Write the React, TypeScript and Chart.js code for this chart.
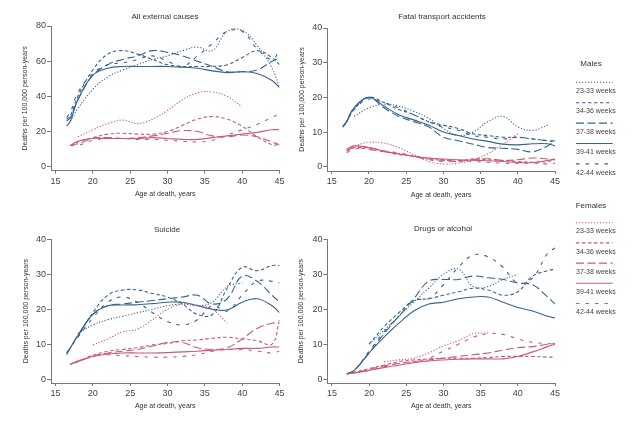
import React, { useEffect, useRef } from "react";
import { Chart, registerables } from "chart.js";

Chart.register(...registerables);

// ---------- data ----------
const AGES = [16.5, 17, 18, 20, 22, 24, 26, 28, 30, 32, 34, 36, 38, 40, 42, 44, 45];
const GROUPS = ["23-33 weeks", "34-36 weeks", "37-38 weeks", "39-41 weeks", "42-44 weeks"];
const X_TICKS = [15, 20, 25, 30, 35, 40, 45];
const Y_TICKS_EXT = [0, 20, 40, 60, 80];
const Y_TICKS_40 = [0, 10, 20, 30, 40];

// All external causes
const extM1 = [null, 26, 33, 44, 51, 55, 58, 61, 63, 66, 68, 66, 77, 77.5, 69, 56, 45];
const extM2 = [27, 29, 40, 55, 64, 66, 64, 61, 58, 57, 57, 57, 58, 62, 66, 62, 58];
const extM3 = [26, 28, 38, 52, 58, 61, 63, 66, 65, 63, 60, 57, 54, 54, 55, 60, 62];
const extM4 = [23, 26, 38, 52, 56, 57, 57, 57, 57, 56.5, 56, 54.5, 53.5, 54, 53, 49, 45];
const extM5 = [28, 31, 42, 53, 58, 59, 61, 63, 60, 57, 63, 70, 77, 77, 67, 61, 66];
const extF1 = [null, null, 17, 21, 24.5, 26.5, 24.5, 27, 32, 38, 42, 42.5, 40, 34, null, null, null];
const extF2 = [null, 12, 14, 16.5, 18.5, 19, 18.5, 18.5, 20, 23.5, 27, 28.5, 27, 23, 17, 12.5, 12.5];
const extF3 = [null, 12, 13, 16, 16.5, 16, 16.5, 17.5, 19, 20.5, 20, 17.5, 17, 18, 17, 14, 12.5];
const extF4 = [null, 12, 14.5, 16, 16, 16, 16, 16.5, 16, 15.5, 15.5, 16.5, 17.5, 18.5, 19.5, 21, 21];
const extF5 = [null, 12, 12, 15, 16, 16, 15.5, 15.5, 15, 14.5, 14, 15, 18, 21, 24, 28, 30];

// Fatal transport accidents
const trM1 = [null, null, 14.5, 17, 18, 17.5, 16, 14, 11, 9, 10, 13, 14.5, 11.5, 10.5, 12, null];
const trM2 = [11.5, 13, 16.5, 20, 18.5, 16.5, 15, 13, 12, 11, 9.5, 9, 8.5, 8.5, 8, 7.5, 7];
const trM3 = [11.5, 13, 17, 20, 17, 14.5, 13, 11.5, 8.5, 7.5, 6.5, 5.5, 5.3, 5, 4.3, 6, 7.5];
const trM4 = [11.5, 13, 17, 20, 17.5, 15, 13.5, 12, 10, 9, 8, 7.3, 6.5, 6.3, 6.6, 6.6, 6];
const trM5 = [11.5, 13, 16.5, 19.5, 18.5, 17, 15, 13, 11.5, 10.5, 9, 8.5, 8, 8.5, 8, 7.5, 7.5];
const trF1 = [null, 5, 6, 7, 6.8, 5.5, 3.5, 1.5, 0.8, 1, 2, 3.8, 6.5, 9.5, null, null, null];
const trF2 = [null, 4.5, 5.5, 5.5, 4.5, 3.5, 3, 2.5, 2, 1.5, 2.3, 2, 1.8, 1.5, 1.3, 1.5, 2];
const trF3 = [null, 4.5, 5.5, 5, 4.3, 3.8, 3, 2.2, 1.8, 1.6, 2, 2.3, 1.8, 2, 2.5, 2.2, 2];
const trF4 = [null, 5, 6, 5.5, 4.5, 3.7, 3, 2.5, 2.2, 2, 1.9, 1.7, 1.5, 1.2, 1.2, 1.8, 2.2];
const trF5 = [null, 4, 5, 5.5, 4.5, 4, 3, 2, 1.5, 1.8, 1.5, 1.3, 1, 1, 1, 0.8, 1];

// Suicide
const suM1 = [null, null, 13, 15.5, 17, 18, 19, 20, 21, 21.5, 21, 22, 26.5, 27.5, null, null, null];
const suM2 = [null, null, 12, 19, 24, 25.5, 25.5, 24.5, 23.5, 21.5, 18.5, 18.5, 26, 32, 31, 32.5, 32.5];
const suM3 = [7.5, 9, 12.5, 18.5, 21, 21.5, 22, 22.5, 23, 23.5, 24, 21.5, 23, 29.5, 28, 24, 22];
const suM4 = [7, 9, 12.5, 18.5, 21, 21.2, 21.3, 21.6, 22, 22, 21, 20, 19.8, 22, 23, 21, 19];
const suM5 = [7.5, 9, 12, 17.5, 22, 23.5, 22, 19, 16.5, 15.5, 17, 21, 19.5, 24, 28, 28, 27.5];
const suF1 = [null, null, null, 9.8, 11.5, 13.5, 14.3, 17, 20, 21.5, 21.2, 20, 16, null, null, null, null];
const suF2 = [null, 4.3, 5, 6.8, 8, 8.5, 9, 9.8, 10.2, 11, 11.2, 11.7, 12, 11.5, 11, 10, 17];
const suF3 = [null, 4.3, 5, 6.5, 7.5, 8, 8.5, 9.5, 10.5, 10.5, 9, 8.5, 9, 11.5, 14.5, 16, 16];
const suF4 = [null, 4.3, 5.2, 6.5, 7.2, 7.5, 7.5, 7.5, 7.6, 7.8, 8, 8.3, 8.5, 8.8, 8.8, 9.2, 9.2];
const suF5 = [null, 4.3, 5, 6.8, 7, 6.7, 6.5, 6.3, 6.3, 6.5, 7, 8, 8.5, 8.5, 8, 7.5, 8];

// Drugs or alcohol
const drM1 = [null, null, null, 10, 14, 18, 22, 26, 30, 31.5, 26.5, 26.5, 28.5, 30, null, null, null];
const drM2 = [null, null, null, 10, 15, 19, 22.5, 23, 24, 25, 26, 25.5, 24, 25, 29.5, 31, 31.5];
const drM3 = [null, 1.5, 2.5, 7.5, 13, 18, 23, 28, 28.5, 28.5, 29.5, 29, 28.5, 27.5, 27, 23.5, 21.5];
const drM4 = [null, 1.5, 2.5, 7.5, 12, 16, 19.5, 21.5, 22, 23, 23.5, 23.5, 22, 20.5, 19.5, 18, 17.5];
const drM5 = [null, 1.5, 2.5, 8, 13.5, 18, 22.5, 23, 27, 32, 35.5, 35, 32, 27.5, 29, 36, 37.5];
const drF1 = [null, null, null, null, 5, 5.5, 6, 7.5, 9.5, 11, 13, 13.2, null, null, null, null, null];
const drF2 = [null, 1.5, 2, 3, 4, 5, 5.5, 5.8, 6, 6, 6, 6.2, 6.5, 6.5, 6.5, 6.3, 6.3];
const drF3 = [null, 1.5, 1.8, 2.8, 3.8, 4.5, 5, 5.5, 6, 6.5, 7, 7.5, 8.3, 9, 9.3, 10, 10.2];
const drF4 = [null, 1.5, 1.8, 2.5, 3.3, 4, 4.7, 5.2, 5.5, 5.7, 5.8, 5.8, 5.8, 6.5, 7.8, 9.3, 10];
const drF5 = [null, 1.5, 1.8, 2.5, 3.5, 4.5, 5, 6, 8, 10, 12, 13, 12.8, 11.5, 10.5, 10.2, 10];

// ---------- styles ----------
const FONT = "'Liberation Sans', Arial, sans-serif";
const MALE = "#35648f";
const FEMALE = "#c95b73";
const AXIS = "#777";
const TICK = "#444";
const TEXT = "#333";
const DASHES: number[][] = [[1.2, 1.8], [3.5, 2.5], [8, 3.5], [], [3.5, 6]];

const PANELS = [
  {
    title: "All external causes", male: [extM1, extM2, extM3, extM4, extM5], female: [extF1, extF2, extF3, extF4, extF5],
    yTicks: Y_TICKS_EXT, yMin: -2.3, yMax: 80,
    left: 0, top: 0, w: 290, h: 210, padTop: 26, padRight: 10.5, yW: 51, xH: 39.3, yTitlePad: 21.3, xTitlePad: 11.5,
    tx: 165, ty: 17,
  },
  {
    title: "Fatal transport accidents", male: [trM1, trM2, trM3, trM4, trM5], female: [trF1, trF2, trF3, trF4, trF5],
    yTicks: Y_TICKS_40, yMin: -1.24, yMax: 40,
    left: 290, top: 0, w: 290, h: 210, padTop: 28, padRight: 25, yW: 37.3, xH: 39, yTitlePad: 7.5, xTitlePad: 10.8,
    tx: 442, ty: 17.3,
  },
  {
    title: "Suicide", male: [suM1, suM2, suM3, suM4, suM5], female: [suF1, suF2, suF3, suF4, suF5],
    yTicks: Y_TICKS_40, yMin: -1.1, yMax: 40,
    left: 0, top: 210, w: 290, h: 214, padTop: 29.3, padRight: 10.5, yW: 51, xH: 41, yTitlePad: 21.8, xTitlePad: 13.8,
    tx: 167, ty: 230,
  },
  {
    title: "Drugs or alcohol", male: [drM1, drM2, drM3, drM4, drM5], female: [drF1, drF2, drF3, drF4, drF5],
    yTicks: Y_TICKS_40, yMin: -1.1, yMax: 40,
    left: 290, top: 210, w: 290, h: 214, padTop: 29.3, padRight: 25, yW: 37.5, xH: 41, yTitlePad: 6.8, xTitlePad: 13.8,
    tx: 443, ty: 229.3,
  },
];

function Panel({ cfg }: { cfg: any }) {
  const ref = useRef<HTMLCanvasElement | null>(null);
  useEffect(() => {
    const datasets: any[] = [];
    const add = (vals: (number | null)[], i: number, color: string, sex: string) => {
      const pts: { x: number; y: number }[] = [];
      vals.forEach((v, k) => {
        if (v !== null) pts.push({ x: AGES[k], y: v });
      });
      datasets.push({
        label: sex + " " + GROUPS[i],
        data: pts,
        borderColor: color,
        borderWidth: 1.1,
        borderDash: DASHES[i],
        pointRadius: 0,
        tension: 0.4,
        fill: false,
      });
    };
    cfg.female.forEach((v: any, i: number) => add(v, i, FEMALE, "Females"));
    cfg.male.forEach((v: any, i: number) => add(v, i, MALE, "Males"));
    const chart = new Chart(ref.current as HTMLCanvasElement, {
      type: "line",
      data: { datasets },
      options: {
        animation: false,
        responsive: false,
        layout: { padding: { top: cfg.padTop, right: cfg.padRight, left: 0, bottom: 0 } },
        plugins: { legend: { display: false }, tooltip: { enabled: false }, title: { display: false } },
        scales: {
          x: {
            type: "linear",
            min: 14.4,
            max: 45,
            afterBuildTicks: (s: any) => {
              s.ticks = X_TICKS.map((v) => ({ value: v }));
            },
            afterFit: (s: any) => {
              s.height = cfg.xH;
            },
            grid: { display: true, drawOnChartArea: false, drawTicks: true, tickLength: 3, color: AXIS },
            border: { display: true, color: AXIS, width: 1 },
            ticks: { font: { family: FONT, size: 9 }, color: TICK, padding: 2, maxRotation: 0, autoSkip: false },
            title: {
              display: true,
              text: "Age at death, years",
              font: { family: FONT, size: 7 },
              color: TEXT,
              padding: { top: 0, bottom: cfg.xTitlePad },
            },
          },
          y: {
            type: "linear",
            min: cfg.yMin,
            max: cfg.yMax,
            afterBuildTicks: (s: any) => {
              s.ticks = cfg.yTicks.map((v: number) => ({ value: v }));
            },
            afterFit: (s: any) => {
              s.width = cfg.yW;
            },
            grid: { display: true, drawOnChartArea: false, drawTicks: true, tickLength: 4, color: AXIS },
            border: { display: true, color: AXIS, width: 1 },
            ticks: { font: { family: FONT, size: 9 }, color: TICK, padding: 1 },
            title: {
              display: true,
              text: "Deaths per 100,000 person-years",
              font: { family: FONT, size: 7 },
              color: TEXT,
              padding: { top: cfg.yTitlePad, bottom: 0 },
            },
          },
        },
      } as any,
    });
    return () => chart.destroy();
  }, []);
  return (
    <canvas
      ref={ref}
      width={cfg.w}
      height={cfg.h}
      style={{ position: "absolute", left: cfg.left, top: cfg.top, width: cfg.w, height: cfg.h }}
    />
  );
}

function Legend() {
  const ox = 560;
  const block = (title: string, titleY: number, lineY0: number, step: number, color: string) => (
    <g>
      <text x={591 - ox} y={titleY} textAnchor="middle" dominantBaseline="middle" fontFamily={FONT} fontSize={8} fill={TEXT}>
        {title}
      </text>
      {GROUPS.map((g, i) => (
        <g key={g}>
          <line
            x1={576 - ox}
            x2={612.7 - ox}
            y1={lineY0 + step * i}
            y2={lineY0 + step * i}
            stroke={color}
            strokeWidth={1.1}
            strokeDasharray={DASHES[i].length ? DASHES[i].join(" ") : undefined}
          />
          <text x={576 - ox} y={lineY0 + 8.8 + step * i} dominantBaseline="middle" fontFamily={FONT} fontSize={7} fill="#444">
            {g}
          </text>
        </g>
      ))}
    </g>
  );
  return (
    <svg width={80} height={424} style={{ position: "absolute", left: ox, top: 0 }}>
      {block("Males", 64, 82.3, 20.4, MALE)}
      {block("Females", 205.7, 222.7, 20.2, FEMALE)}
    </svg>
  );
}

export default function App() {
  return (
    <div style={{ position: "absolute", left: 0, top: 0, width: 640, height: 424, background: "#fff", overflow: "hidden" }}>
      {PANELS.map((p) => (
        <Panel key={p.title} cfg={p} />
      ))}
      {PANELS.map((p) => (
        <div
          key={"t" + p.title}
          style={{
            position: "absolute",
            left: p.tx,
            top: p.ty,
            transform: "translate(-50%, -50%)",
            fontFamily: FONT,
            fontSize: 8,
            lineHeight: 1,
            color: TEXT,
            whiteSpace: "nowrap",
          }}
        >
          {p.title}
        </div>
      ))}
      <Legend />
    </div>
  );
}
